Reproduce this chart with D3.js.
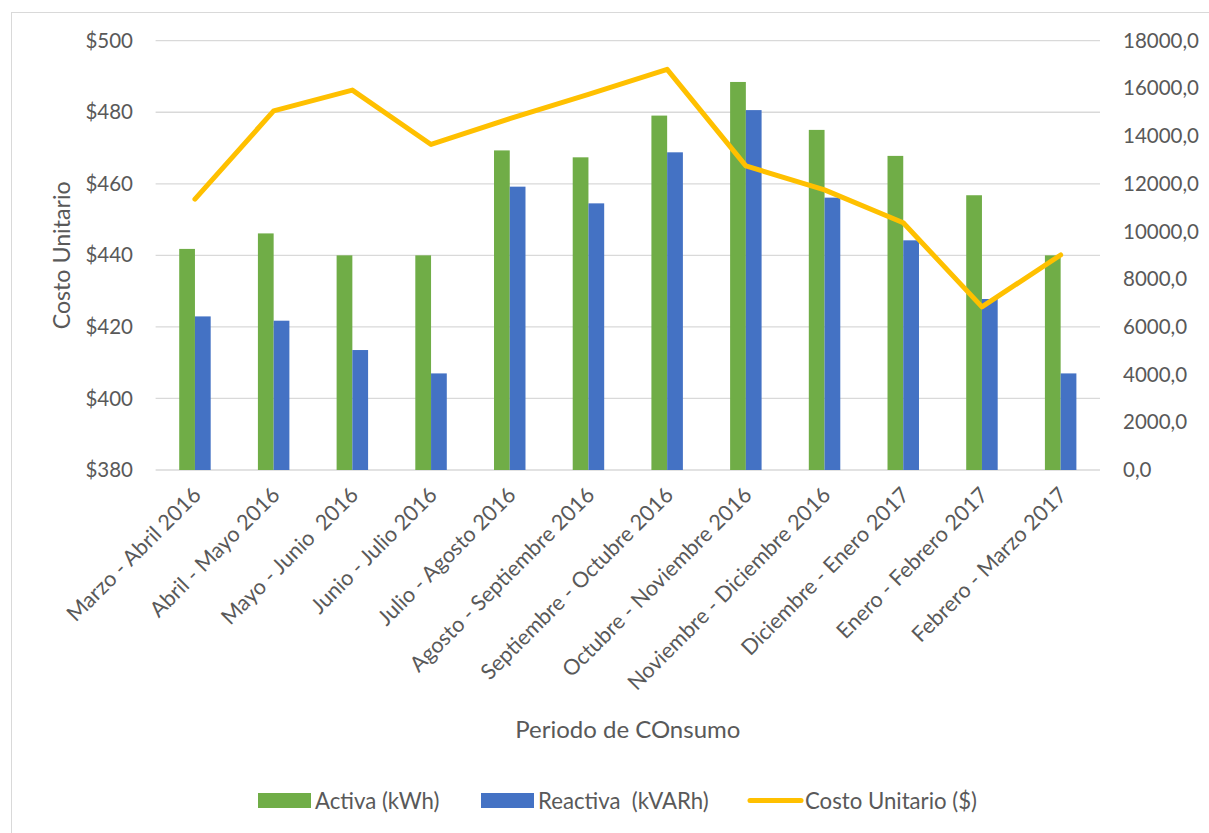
<!DOCTYPE html>
<html>
<head>
<meta charset="utf-8">
<script src="https://cdn.jsdelivr.net/npm/d3@7"></script>
<style>
  html, body { margin: 0; padding: 0; background: #fff; }
  svg { display: block; }
  text { font-family: Lato, "Open Sans", sans-serif; fill: #595959; white-space: pre; }
</style>
</head>
<body>
<svg id="chart" width="1209" height="833"></svg>
<script>
// Consumption periods
const categories = [
  "Marzo - Abril 2016", "Abril - Mayo 2016", "Mayo - Junio  2016", "Junio - Julio 2016",
  "Julio - Agosto 2016", "Agosto - Septiembre 2016", "Septiembre - Octubre 2016",
  "Octubre - Noviembre 2016", "Noviembre - Diciembre 2016", "Diciembre - Enero 2017",
  "Enero - Febrero 2017", "Febrero - Marzo 2017"
];
// Active energy (kWh), right axis
const activa = [9270, 9920, 9000, 9000, 13400, 13110, 14860, 16270, 14260, 13170, 11520, 9000];
// Reactive energy (kVARh), right axis
const reactiva = [6440, 6260, 5030, 4050, 11880, 11180, 13320, 15090, 11420, 9630, 7170, 4050];
// Unit cost ($), left axis
const costo = [455.7, 480.4, 486.2, 471.0, 478.2, 485.0, 492.0, 465.0, 458.3, 449.1, 425.6, 440.1];

const leftTicks = [380, 400, 420, 440, 460, 480, 500];
const rightTicks = [0, 2000, 4000, 6000, 8000, 10000, 12000, 14000, 16000, 18000];

const legendItems = [
  { label: "Activa (kWh)", type: "bar", color: "#70AD47" },
  { label: "Reactiva  (kVARh)", type: "bar", color: "#4472C4" },
  { label: "Costo Unitario ($)", type: "line", color: "#FFC000" }
];

const svg = d3.select("#chart");
const plot = { left: 155.6, right: 1100, top: 40.7, bottom: 470 };

// Chart frame
svg.append("rect")
  .attr("x", 11.5).attr("y", 12.5)
  .attr("width", 1209).attr("height", 833)
  .attr("fill", "none").attr("stroke", "#D9D9D9").attr("stroke-width", 1);

const x = d3.scaleBand().domain(categories).range([plot.left, plot.right]).padding(0);
const yLeft = d3.scaleLinear().domain([380, 500]).range([plot.bottom, plot.top]);
const yRight = d3.scaleLinear().domain([0, 18000]).range([plot.bottom, plot.top]);

// Gridlines
svg.append("g").selectAll("line").data(leftTicks).join("line")
  .attr("x1", plot.left).attr("x2", plot.right)
  .attr("y1", d => yLeft(d)).attr("y2", d => yLeft(d))
  .attr("stroke", "#D9D9D9").attr("stroke-width", 1.3);

// Left axis labels
const leftAxis = d3.axisLeft(yLeft).tickValues(leftTicks).tickSize(0).tickPadding(0)
  .tickFormat(d => "$" + d);
svg.append("g").attr("transform", "translate(133,0)").call(leftAxis)
  .call(g => g.select(".domain").remove())
  .call(g => g.selectAll("text").attr("font-size", 20.5).attr("fill", "#595959")
    .style("font-family", "Lato, sans-serif"));

// Right axis labels
const rightAxis = d3.axisRight(yRight).tickValues(rightTicks).tickSize(0).tickPadding(0)
  .tickFormat(d => d3.format(".1f")(d).replace(".", ","));
svg.append("g").attr("transform", "translate(1123,0)").call(rightAxis)
  .call(g => g.select(".domain").remove())
  .call(g => g.selectAll("text").attr("font-size", 20.5).attr("fill", "#595959")
    .style("font-family", "Lato, sans-serif"));

// Bars
const bw = x.bandwidth() * 0.2;
const bars = svg.append("g");
bars.selectAll("rect.activa").data(categories).join("rect")
  .attr("class", "activa")
  .attr("x", d => x(d) + x.bandwidth() / 2 - bw)
  .attr("y", (d, i) => yRight(activa[i]))
  .attr("width", bw)
  .attr("height", (d, i) => yRight(0) - yRight(activa[i]))
  .attr("fill", "#70AD47");
bars.selectAll("rect.reactiva").data(categories).join("rect")
  .attr("class", "reactiva")
  .attr("x", d => x(d) + x.bandwidth() / 2)
  .attr("y", (d, i) => yRight(reactiva[i]))
  .attr("width", bw)
  .attr("height", (d, i) => yRight(0) - yRight(reactiva[i]))
  .attr("fill", "#4472C4");

// Unit cost line
const line = d3.line()
  .x((d, i) => x(categories[i]) + x.bandwidth() / 2)
  .y(d => yLeft(d));
svg.append("path").datum(costo)
  .attr("d", line)
  .attr("fill", "none")
  .attr("stroke", "#FFC000")
  .attr("stroke-width", 5)
  .attr("stroke-linejoin", "round")
  .attr("stroke-linecap", "round");

// Category labels
svg.append("g").selectAll("text").data(categories).join("text")
  .attr("transform", d => `translate(${x(d) + x.bandwidth() / 2 + 2},${plot.bottom + 21}) rotate(-45)`)
  .attr("text-anchor", "end")
  .attr("dy", "0.35em")
  .attr("font-size", 21.6)
  .text(d => d);

// Axis titles
svg.append("text")
  .attr("transform", `translate(70,${(plot.top + plot.bottom) / 2}) rotate(-90)`)
  .attr("text-anchor", "middle")
  .attr("font-size", 23.2)
  .text("Costo Unitario");

svg.append("text")
  .attr("x", (plot.left + plot.right) / 2)
  .attr("y", 738)
  .attr("text-anchor", "middle")
  .attr("font-size", 24)
  .text("Periodo de COnsumo");

// Legend
const legendX = [258, 481, 748];
const lg = svg.append("g");
legendItems.forEach((item, i) => {
  const gx = legendX[i];
  if (item.type === "bar") {
    lg.append("rect").attr("x", gx).attr("y", 793).attr("width", 53).attr("height", 15)
      .attr("fill", item.color);
  } else {
    lg.append("line").attr("x1", gx + 2).attr("x2", gx + 53).attr("y1", 800.5).attr("y2", 800.5)
      .attr("stroke", item.color).attr("stroke-width", 5).attr("stroke-linecap", "round");
  }
  lg.append("text").attr("x", gx + 57).attr("y", 801).attr("dy", "0.35em")
    .attr("font-size", 22.2).text(item.label);
});
</script>
</body>
</html>
